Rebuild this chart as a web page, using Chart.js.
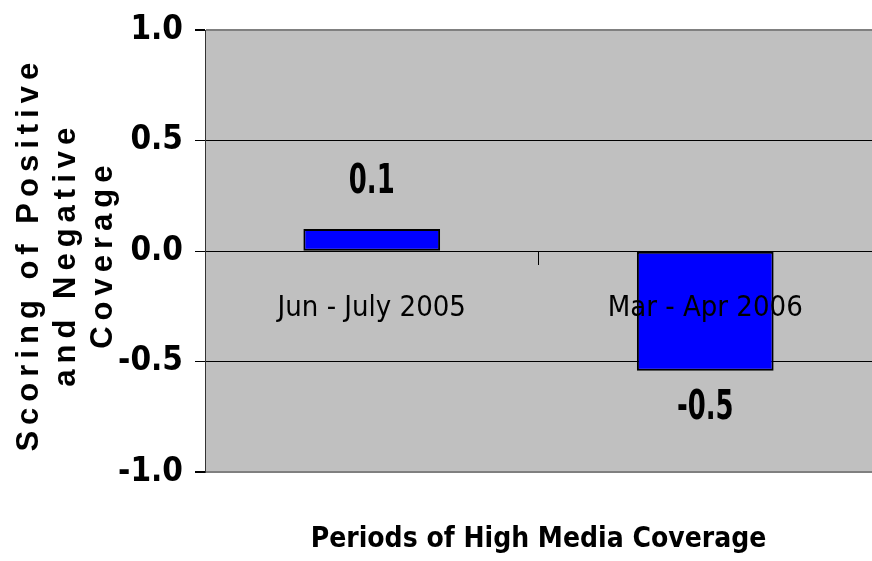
<!DOCTYPE html>
<html>
<head>
<meta charset="utf-8">
<script src="https://cdn.jsdelivr.net/npm/chart.js@4.4.1/dist/chart.umd.min.js"></script>
<style>
    html, body { margin: 0; padding: 0; background: #ffffff; }
    #wrap { width: 872px; height: 561px; position: relative; }
</style>
</head>
<body>
<div id="wrap"><canvas id="chart-coverage"></canvas></div>
<script>
    const categories = ['Jun - July 2005', 'Mar - Apr 2006'];
    const scores = [0.1, -0.54];
    const yRange = [-1, 1];
    const yStep = 0.5;
    const yTitleLines = ['Scoring of Positive', 'and Negative', 'Coverage'];
    const xTitle = 'Periods of High Media Coverage';

    const NARROW = "'Liberation Sans Narrow', 'Arial Narrow', 'DejaVu Sans Condensed', sans-serif";
    const WIDE = "'Liberation Sans', Arial, sans-serif";

    // grey plot area like the old Excel default
    const plotBackground = {
        id: 'plotBackground',
        beforeDraw(chart) {
            const { ctx, chartArea: a } = chart;
            ctx.save();
            ctx.fillStyle = '#c0c0c0';
            ctx.fillRect(a.left, a.top, a.right - a.left, a.bottom - a.top);
            ctx.restore();
        }
    };

    // value labels above / below the bars (squeezed to look like Arial Narrow)
    const valueLabels = {
        id: 'valueLabels',
        afterDatasetsDraw(chart) {
            const { ctx } = chart;
            const meta = chart.getDatasetMeta(0);
            ctx.save();
            ctx.font = `bold 40px ${NARROW}`;
            ctx.fillStyle = '#000';
            ctx.textAlign = 'center';
            ctx.textBaseline = 'middle';
            meta.data.forEach((bar, i) => {
                const v = scores[i];
                const txt = v.toFixed(1);
                const y = v >= 0 ? bar.y - 46 : bar.y + 38;
                ctx.fillText(txt, bar.x, y, ctx.measureText(txt).width * 0.72);
            });
            ctx.restore();
        }
    };

    // stretched three-line y title
    const yTitle = {
        id: 'yTitle',
        afterDraw(chart) {
            const { ctx, chartArea: a } = chart;
            const cy = (a.top + a.bottom) / 2 + 3;
            const baselines = [38, 75, 112];
            ctx.save();
            ctx.font = `bold 31px ${WIDE}`;
            ctx.fillStyle = '#000';
            ctx.textAlign = 'center';
            ctx.textBaseline = 'alphabetic';
            if ('letterSpacing' in ctx) ctx.letterSpacing = '6px';
            yTitleLines.forEach((line, i) => {
                ctx.save();
                ctx.translate(baselines[i], cy);
                ctx.rotate(-Math.PI / 2);
                ctx.fillText(line, 0, 0);
                ctx.restore();
            });
            ctx.restore();
        }
    };

    new Chart(document.getElementById('chart-coverage'), {
        type: 'bar',
        data: {
            labels: categories,
            datasets: [{
                data: scores,
                backgroundColor: '#0000ff',
                borderColor: '#000000',
                borderWidth: 2,
                borderSkipped: false,
                barPercentage: 0.41,
                categoryPercentage: 1
            }]
        },
        options: {
            responsive: true,
            maintainAspectRatio: false,
            animation: false,
            layout: {
                padding: { top: 30, right: 0, bottom: 0, left: 0 }
            },
            scales: {
                x: {
                    position: { y: 0 },
                    offset: true,
                    grid: {
                        offset: true,
                        drawOnChartArea: false,
                        drawTicks: true,
                        tickLength: 13,
                        tickColor: '#000'
                    },
                    border: { display: true, color: '#000', width: 1 },
                    ticks: {
                        z: 1, // labels sit on top of the bars, as in the original
                        color: '#000',
                        padding: 27,
                        maxRotation: 0,
                        font: { family: NARROW, size: 29 }
                    }
                },
                y: {
                    min: yRange[0],
                    max: yRange[1],
                    afterFit: (scale) => {
                        scale.width = 205;
                        scale.paddingTop = 0;
                        scale.paddingBottom = 0;
                    },
                    grid: {
                        color: (c) => Math.abs(c.tick.value) === 1 ? '#808080' : '#000',
                        lineWidth: (c) => Math.abs(c.tick.value) === 1 ? 2 : 1,
                        tickColor: '#000',
                        tickLength: 10
                    },
                    border: { display: true, color: '#333', width: 1 },
                    ticks: {
                        stepSize: yStep,
                        color: '#000',
                        padding: 12,
                        font: { family: NARROW, size: 33, weight: 'bold' },
                        callback: (v) => Number(v).toFixed(1)
                    }
                }
            },
            plugins: {
                legend: { display: false },
                tooltip: { enabled: false },
                title: {
                    display: true,
                    text: xTitle,
                    position: 'bottom',
                    fullSize: false,
                    color: '#000',
                    font: { family: NARROW, size: 28, weight: 'bold', lineHeight: 1.2 },
                    padding: { top: 51, bottom: 4 }
                }
            }
        },
        plugins: [plotBackground, valueLabels, yTitle]
    });
</script>
</body>
</html>
